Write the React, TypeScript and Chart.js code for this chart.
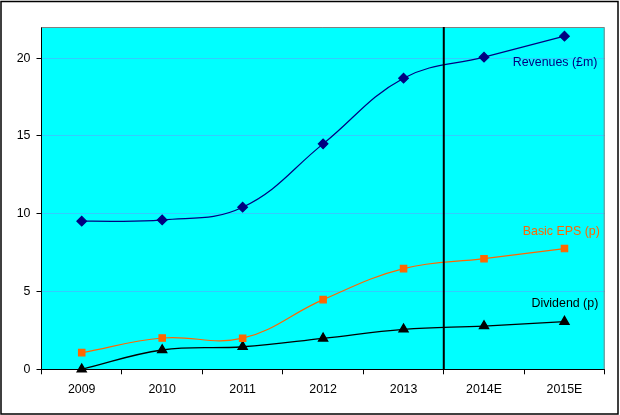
import React, { useEffect, useRef } from "react";
import { Chart, registerables } from "chart.js";

Chart.register(...registerables);

const categories = ["2009", "2010", "2011", "2012", "2013", "2014E", "2015E"];
const revenues = [9.52, 9.6, 10.42, 14.49, 18.71, 20.06, 21.41];
const basicEps = [1.07, 2.01, 2.0, 4.48, 6.47, 7.11, 7.76];
const dividend = [0.0, 1.24, 1.45, 1.99, 2.57, 2.78, 3.06];
const yTicks = [0, 5, 10, 15, 20];
const seriesLabels = ["Revenues (£m)", "Basic EPS (p)", "Dividend (p)"];
// label anchor (category index, value) — right-aligned text
const labelAnchors = [
  { x: 6.41, y: 19.72 },
  { x: 6.44, y: 8.85 },
  { x: 6.42, y: 4.2 },
];
const forecastSplit = 4.5;

const FONT = "'Liberation Sans', Arial, sans-serif";

export default function App() {
  const ref = useRef<HTMLCanvasElement>(null);

  useEffect(() => {
    document.body.style.margin = "0";
    const canvas = ref.current!;
    const colors = ["#000080", "#ff6600", "#000000"];

    const decor = {
      id: "decor",
      beforeDraw(chart: any) {
        const { ctx, chartArea: a } = chart;
        ctx.save();
        ctx.fillStyle = "#ffffff";
        ctx.fillRect(0, 0, chart.width, chart.height);
        ctx.fillStyle = "#00ffff";
        ctx.fillRect(a.left, a.top, a.right - a.left, a.bottom - a.top);
        ctx.strokeStyle = "#000000";
        ctx.lineWidth = 1.5;
        ctx.strokeRect(1, 1.5, 617, 412.5);
        ctx.restore();
      },
      afterDatasetsDraw(chart: any) {
        const { ctx, chartArea: a, scales } = chart;
        ctx.save();
        ctx.strokeStyle = "#808080";
        ctx.lineWidth = 1;
        ctx.beginPath();
        ctx.moveTo(a.left, a.top + 0.5);
        ctx.lineTo(a.right - 0.5, a.top + 0.5);
        ctx.lineTo(a.right - 0.5, a.bottom);
        ctx.stroke();
        const vx = scales.x.getPixelForValue(forecastSplit);
        ctx.strokeStyle = "#000000";
        ctx.lineWidth = 2;
        ctx.beginPath();
        ctx.moveTo(vx, a.top);
        ctx.lineTo(vx, a.bottom);
        ctx.stroke();
        ctx.font = `12.4px ${FONT}`;
        ctx.textAlign = "right";
        ctx.textBaseline = "middle";
        labelAnchors.forEach((p, i) => {
          ctx.fillStyle = colors[i];
          ctx.fillText(
            seriesLabels[i],
            scales.x.getPixelForValue(p.x),
            scales.y.getPixelForValue(p.y)
          );
        });
        ctx.restore();
      },
    };

    const chart = new Chart(canvas, {
      type: "line",
      data: {
        labels: categories,
        datasets: [
          {
            label: seriesLabels[0],
            data: revenues,
            borderColor: colors[0],
            backgroundColor: colors[0],
            borderWidth: 1.2,
            pointStyle: "rectRot",
            pointRadius: 4.8,
            tension: 0.4,
          },
          {
            label: seriesLabels[1],
            data: basicEps,
            borderColor: colors[1],
            backgroundColor: colors[1],
            borderWidth: 1.2,
            pointStyle: "rect",
            pointRadius: 4.5,
            tension: 0.4,
          },
          {
            label: seriesLabels[2],
            data: dividend,
            borderColor: colors[2],
            backgroundColor: colors[2],
            borderWidth: 1.3,
            pointStyle: "triangle",
            pointRadius: 5.3,
            tension: 0.4,
          },
        ],
      },
      options: {
        responsive: false,
        animation: false,
        clip: false as any,
        layout: { padding: { top: 27, right: 15.3, bottom: 0, left: 0 } },
        plugins: {
          legend: { display: false },
          tooltip: { enabled: false },
        },
        scales: {
          x: {
            offset: true,
            grid: {
              offset: true,
              drawOnChartArea: false,
              color: "#000000",
              tickColor: "#000000",
              tickLength: 5,
            },
            border: { color: "#000000", width: 1 },
            ticks: {
              color: "#000000",
              font: { family: FONT, size: 12.4 },
              padding: 8,
              maxRotation: 0,
            },
            afterFit(scale: any) {
              scale.height = 45.7;
            },
          },
          y: {
            min: 0,
            max: 22,
            afterBuildTicks(scale: any) {
              scale.ticks = yTicks.map((v) => ({ value: v }));
            },
            grid: {
              color: (c: any) => (c.tick && c.tick.value === 0 ? "rgba(0,0,0,0)" : "#33ccff"),
              tickColor: "#000000",
              tickLength: 5,
            },
            border: { color: "#000000", width: 1 },
            ticks: {
              color: "#000000",
              font: { family: FONT, size: 12.4 },
              padding: 6,
            },
            afterFit(scale: any) {
              scale.width = 41.5;
            },
          },
        },
      },
      plugins: [decor],
    });

    return () => chart.destroy();
  }, []);

  return (
    <div style={{ position: "absolute", left: 0, top: 0, width: 620, height: 415 }}>
      <canvas ref={ref} width={620} height={415} style={{ width: 620, height: 415 }} />
    </div>
  );
}
